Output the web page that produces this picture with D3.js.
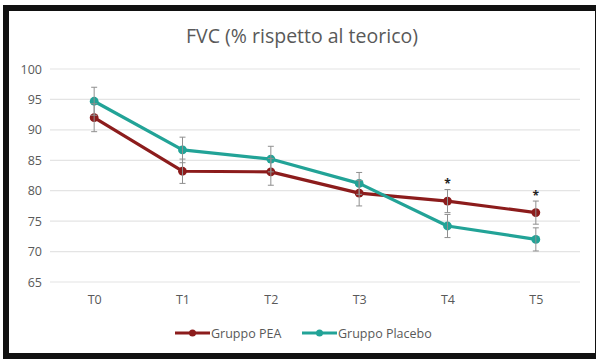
<!DOCTYPE html>
<html>
<head>
<meta charset="utf-8">
<script src="https://cdn.jsdelivr.net/npm/d3@7"></script>
<style>
  html, body { margin: 0; padding: 0; background: #fff; }
  svg { display: block; }
  text { font-family: "Open Sans", "DejaVu Sans", sans-serif; }
</style>
</head>
<body>
<svg id="chart" width="596" height="359"></svg>
<script>
// Time points
const categories = ["T0", "T1", "T2", "T3", "T4", "T5"];

// FVC, % of predicted
const peaValues = [92.0, 83.2, 83.1, 79.6, 78.3, 76.4];
const peaErrors = [2.3, 2.0, 2.2, 2.1, 1.9, 1.9];
const placeboValues = [94.7, 86.7, 85.2, 81.2, 74.2, 72.0];
const placeboErrors = [2.3, 2.1, 2.1, 1.8, 1.9, 1.9];

// Time points marked as significant
const significant = ["T4", "T5"];

const yTicks = [65, 70, 75, 80, 85, 90, 95, 100];
const seriesNames = ["Gruppo PEA", "Gruppo Placebo"];

const colors = { pea: "#8c1c1c", placebo: "#22a397" };
const textColor = "#595959";

const svg = d3.select("#chart");

// Outer frame
svg.append("rect")
  .attr("x", 6).attr("y", 8)
  .attr("width", 592).attr("height", 348)
  .attr("fill", "#fff")
  .attr("stroke", "#111").attr("stroke-width", 6);

const x = d3.scalePoint().domain(categories).range([50, 580]).padding(0.5);
const y = d3.scaleLinear().domain([65, 100]).range([282, 69]);

// Title
svg.append("text")
  .attr("x", 302).attr("y", 43)
  .attr("text-anchor", "middle")
  .attr("font-size", 19.5)
  .attr("fill", textColor)
  .text("FVC (% rispetto al teorico)");

// Horizontal gridlines
svg.append("g").selectAll("line")
  .data(yTicks).join("line")
  .attr("x1", 50).attr("x2", 580)
  .attr("y1", d => y(d)).attr("y2", d => y(d))
  .attr("stroke", "#e4e4e4").attr("stroke-width", 1.2);

// Y axis labels
const yAxis = svg.append("g")
  .attr("transform", "translate(46,0)")
  .call(d3.axisLeft(y).tickValues(yTicks).tickSize(0).tickPadding(4));
yAxis.select(".domain").remove();
yAxis.selectAll("text")
  .attr("font-family", "'Open Sans', sans-serif")
  .attr("font-size", 12.5)
  .attr("fill", textColor);

// X axis labels
const xAxis = svg.append("g")
  .attr("transform", "translate(0,291)")
  .call(d3.axisBottom(x).tickSize(0).tickPadding(4));
xAxis.select(".domain").remove();
xAxis.selectAll("text")
  .attr("font-family", "'Open Sans', sans-serif")
  .attr("font-size", 12.5)
  .attr("fill", textColor);

const series = [
  { key: "pea", values: peaValues, errors: peaErrors },
  { key: "placebo", values: placeboValues, errors: placeboErrors }
];

const line = d3.line()
  .x((d, i) => x(categories[i]))
  .y(d => y(d));

// Lines and markers
series.forEach(s => {
  svg.append("path")
    .datum(s.values)
    .attr("d", line)
    .attr("fill", "none")
    .attr("stroke", colors[s.key])
    .attr("stroke-width", 3.2)
    .attr("stroke-linejoin", "round");
});
series.forEach(s => {
  svg.append("g").selectAll("circle")
    .data(s.values).join("circle")
    .attr("cx", (d, i) => x(categories[i]))
    .attr("cy", d => y(d))
    .attr("r", 4.4)
    .attr("fill", colors[s.key]);
});

// Error bars
series.forEach(s => {
  const g = svg.append("g")
    .attr("stroke", "#8f8f8f")
    .attr("stroke-width", 1);
  s.values.forEach((v, i) => {
    const cx = x(categories[i]);
    const top = y(v + s.errors[i]);
    const bot = y(v - s.errors[i]);
    g.append("line").attr("x1", cx).attr("x2", cx).attr("y1", top).attr("y2", bot);
    g.append("line").attr("x1", cx - 3).attr("x2", cx + 3).attr("y1", top).attr("y2", top);
    g.append("line").attr("x1", cx - 3).attr("x2", cx + 3).attr("y1", bot).attr("y2", bot);
  });
});

// Significance markers above the upper error bar
svg.append("g").selectAll("text")
  .data(significant).join("text")
  .attr("x", d => x(d))
  .attr("y", d => {
    const i = categories.indexOf(d);
    const top = Math.max(peaValues[i] + peaErrors[i], placeboValues[i] + placeboErrors[i]);
    return y(top) - 1;
  })
  .attr("text-anchor", "middle")
  .attr("font-size", 12)
  .attr("font-weight", "bold")
  .attr("fill", "#222")
  .text("*");

// Legend
const legendItems = [
  { name: seriesNames[0], key: "pea", x: 175 },
  { name: seriesNames[1], key: "placebo", x: 302 }
];
const legend = svg.append("g").attr("transform", "translate(0,333)");
legendItems.forEach(item => {
  const g = legend.append("g").attr("transform", `translate(${item.x},0)`);
  g.append("line").attr("x1", 0).attr("x2", 35).attr("y1", 0).attr("y2", 0)
    .attr("stroke", colors[item.key]).attr("stroke-width", 3);
  g.append("circle").attr("cx", 17.5).attr("cy", 0).attr("r", 3.5)
    .attr("fill", colors[item.key]);
  g.append("text").attr("x", 36).attr("y", 4.5)
    .attr("font-size", 12.5)
    .attr("fill", textColor)
    .text(item.name);
});
</script>
</body>
</html>
